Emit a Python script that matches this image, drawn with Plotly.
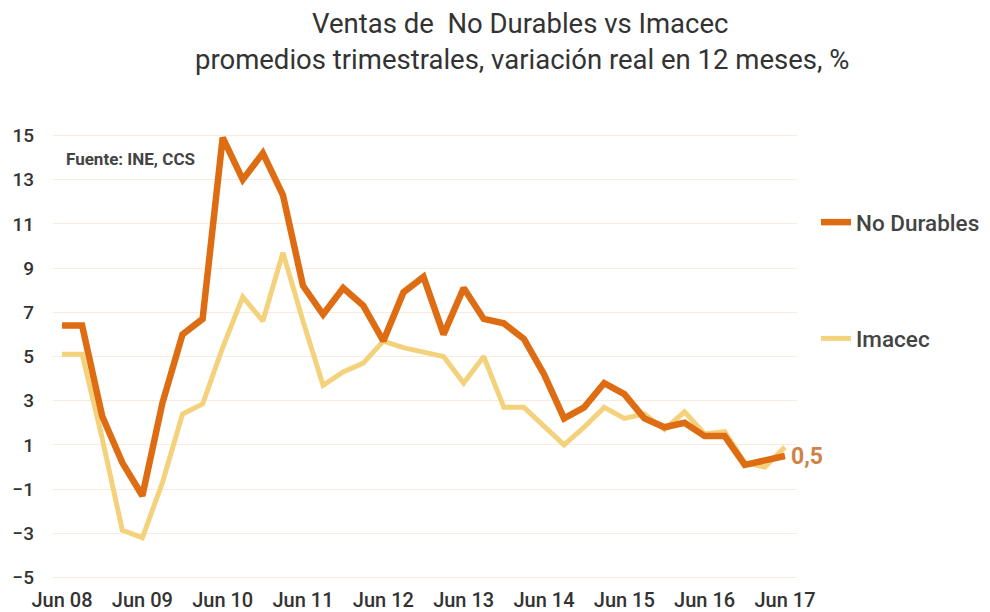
import plotly.graph_objects as go

quarters = [f"{m} {y:02d}" for y in range(8, 18) for m in ["Mar", "Jun", "Sep", "Dec"]][1:38]

no_durables = [6.4, 6.4, 2.3, 0.2, -1.3, 2.9, 6.0, 6.7, 14.9, 13.0, 14.2, 12.3, 8.2, 6.9,
               8.1, 7.3, 5.7, 7.9, 8.6, 6.0, 8.1, 6.7, 6.5, 5.8, 4.2, 2.2, 2.7, 3.8,
               3.3, 2.2, 1.8, 2.0, 1.4, 1.4, 0.1, 0.3, 0.5]
imacec = [5.1, 5.1, 1.3, -2.85, -3.2, -0.7, 2.4, 2.85, 5.4, 7.7, 6.6, 9.7, 6.6, 3.7,
          4.3, 4.7, 5.7, 5.4, 5.2, 5.0, 3.8, 5.0, 2.7, 2.7, 1.85, 1.0, 1.8, 2.7,
          2.2, 2.4, 1.7, 2.5, 1.5, 1.6, 0.2, 0.0, 0.9]

y_ticks = [-5, -3, -1, 1, 3, 5, 7, 9, 11, 13, 15]
x_tick_labels = [q for q in quarters if q.startswith("Jun")]

ORANGE = "#DE6C12"
YELLOW = "#F4D27C"
FONT = "Roboto"

# page body has an 8px default margin, so the figure is drawn 8px in and down
OFF = 8
W, H = 990 - OFF, 612 - OFF
M_L, M_R = 53 - OFF, W - (797 - OFF)
M_T, M_B = 131 - OFF, H - (582 - OFF)
PH = H - M_T - M_B
PW = W - M_L - M_R


def py(pix):
    return (H - M_B - (pix - OFF)) / PH


def px(pix):
    return ((pix - OFF) - M_L) / PW


fig = go.Figure()
fig.add_trace(go.Scatter(x=quarters, y=imacec, mode="lines", name="Imacec",
                         line=dict(color=YELLOW, width=5), legendrank=2,
                         legendgroup="b"))
fig.add_trace(go.Scatter(x=quarters, y=no_durables, mode="lines", name="No Durables",
                         line=dict(color=ORANGE, width=6.5), legendrank=1,
                         legendgroup="a"))

fig.add_annotation(x=quarters[-1], y=no_durables[-1], text="<b>0,5</b>",
                   showarrow=False, xanchor="left", xshift=4, yshift=-1,
                   font=dict(family=FONT, size=23, color="#CF8245"))
fig.add_annotation(x=px(66), y=py(159), xref="paper", yref="paper",
                   text="<b>Fuente: INE, CCS</b>", showarrow=False,
                   xanchor="left", yanchor="middle", xshift=-2,
                   font=dict(family=FONT, size=17, color="#444444"))
fig.add_annotation(x=px(520), y=py(24), xref="paper", yref="paper",
                   text="Ventas de \u00a0No Durables vs Imacec", showarrow=False,
                   xanchor="center", yanchor="middle",
                   font=dict(family=FONT, size=27.5, color="#333333"))
fig.add_annotation(x=px(522), y=py(60), xref="paper", yref="paper",
                   text="promedios trimestrales, variación real en 12 meses, %",
                   showarrow=False, xanchor="center", yanchor="middle",
                   font=dict(family=FONT, size=27.5, color="#333333"))

fig.update_layout(
    width=W, height=H,
    paper_bgcolor="white", plot_bgcolor="white",
    margin=dict(l=M_L, r=M_R, t=M_T, b=M_B, autoexpand=False),
    showlegend=True,
    legend=dict(x=px(816), y=py(201), xanchor="left", yanchor="top",
                tracegroupgap=84, itemwidth=30,
                font=dict(family=FONT, size=22.5, color="#444444", weight=500),
                bgcolor="rgba(0,0,0,0)"),
    xaxis=dict(type="category", range=[-0.45, 36.6], tickvals=x_tick_labels,
               ticktext=x_tick_labels, showgrid=False, showline=False,
               zeroline=False, ticks="", automargin=False, ticklabelstandoff=4,
               tickfont=dict(family=FONT, size=20, color="#333333", weight=500)),
    yaxis=dict(range=[-5.2, 15.2], tickvals=y_ticks, showgrid=True,
               gridcolor="#FCEADC", gridwidth=1, zeroline=False, showline=False,
               ticklabelstandoff=18, automargin=False,
               tickfont=dict(family=FONT, size=19, color="#333333", weight=500)),
)
fig.write_html("out.html")
